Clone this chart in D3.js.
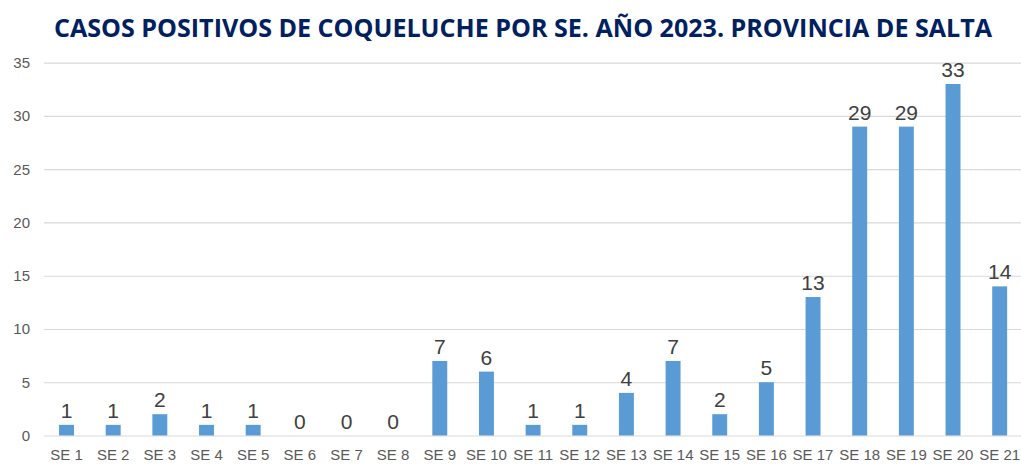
<!DOCTYPE html>
<html>
<head>
<meta charset="utf-8">
<script src="https://cdn.jsdelivr.net/npm/d3@7"></script>
<style>
  body { margin: 0; background: #fff; }
  svg { display: block; }
</style>
</head>
<body>
<svg id="chart"></svg>
<script>
const weeks = ['SE 1','SE 2','SE 3','SE 4','SE 5','SE 6','SE 7','SE 8','SE 9','SE 10','SE 11',
  'SE 12','SE 13','SE 14','SE 15','SE 16','SE 17','SE 18','SE 19','SE 20','SE 21'];
const cases = [1,1,2,1,1,0,0,0,7,6,1,1,4,7,2,5,13,29,29,33,14];
const yTicks = [0,5,10,15,20,25,30,35];
const title = 'CASOS POSITIVOS DE COQUELUCHE POR SE. AÑO 2023. PROVINCIA DE SALTA';

const width = 1021, height = 464;

const svg = d3.select('#chart')
    .attr('width', width)
    .attr('height', height);

const x = d3.scaleBand()
    .domain(weeks)
    .range([43.2, 1023])
    .paddingInner(0.68)
    .paddingOuter(0.34);

const y = d3.scaleLinear()
    .domain([0, 35])
    .range([435.5, 62.7]);

// title
svg.append('text')
    .attr('x', 54)
    .attr('y', 37)
    .attr('textLength', 938)
    .attr('lengthAdjust', 'spacingAndGlyphs')
    .style('font', 'bold 25px "Open Sans", sans-serif')
    .attr('fill', '#002060')
    .text(title);

// gridlines + y labels
const yAxis = svg.append('g')
    .attr('transform', 'translate(44,0)')
    .call(d3.axisLeft(y).tickValues(yTicks).tickSize(-1000).tickPadding(14));
yAxis.select('.domain').remove();
yAxis.selectAll('.tick line').attr('stroke', '#d9d9d9').attr('stroke-width', 1.2);
yAxis.selectAll('.tick text')
    .attr('fill', '#595959')
    .style('font', '15px "Liberation Sans", Arial, sans-serif');

// bars
svg.append('g')
  .selectAll('rect')
  .data(cases)
  .join('rect')
    .attr('x', (d, i) => x(weeks[i]))
    .attr('y', d => y(d))
    .attr('width', x.bandwidth())
    .attr('height', d => y(0) - y(d))
    .attr('fill', '#5b9bd5');

// value labels
svg.append('g')
  .selectAll('text')
  .data(cases)
  .join('text')
    .attr('x', (d, i) => x(weeks[i]) + x.bandwidth() / 2)
    .attr('y', d => y(d) - 7)
    .attr('text-anchor', 'middle')
    .attr('fill', '#404040')
    .style('font', '21px "Liberation Sans", Arial, sans-serif')
    .text(d => d);

// x labels
const xAxis = svg.append('g')
    .attr('transform', `translate(0,${y(0)})`)
    .call(d3.axisBottom(x).tickSize(0).tickPadding(14));
xAxis.select('.domain').remove();
xAxis.selectAll('.tick text')
    .attr('fill', '#595959')
    .style('font', '15px "Liberation Sans", Arial, sans-serif');
</script>
</body>
</html>
